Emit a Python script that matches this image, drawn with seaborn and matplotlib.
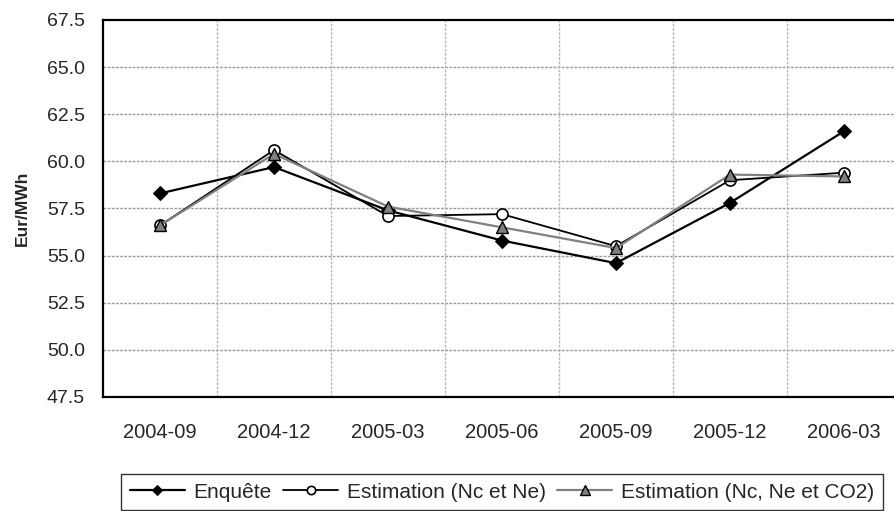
import matplotlib
matplotlib.use("Agg")
import matplotlib.pyplot as plt
import seaborn as sns
import pandas as pd
import numpy as np

periods = ["2004-09", "2004-12", "2005-03", "2005-06", "2005-09", "2005-12", "2006-03"]
enquete = [58.3, 59.7, 57.4, 55.8, 54.6, 57.8, 61.6]
estim_nc_ne = [56.6, 60.6, 57.1, 57.2, 55.5, 59.0, 59.4]
estim_nc_ne_co2 = [56.6, 60.4, 57.6, 56.5, 55.4, 59.3, 59.2]
y_ticks = [47.5, 50.0, 52.5, 55.0, 57.5, 60.0, 62.5, 65.0, 67.5]

sns.set_theme(style="white")
plt.rcParams["font.family"] = ["Liberation Sans", "DejaVu Sans"]

W, H = 895, 511
fig = plt.figure(figsize=(W / 100, H / 100), dpi=100)
# plot area runs a little past the right edge of the figure
ax = fig.add_axes([103 / W, 1 - 397 / H, 798 / W, 377 / H])

pos = np.arange(len(periods))
df = pd.DataFrame({"pos": pos, "enq": enquete, "e1": estim_nc_ne, "e2": estim_nc_ne_co2})

sns.lineplot(data=df, x="pos", y="enq", ax=ax, color="black", lw=1.6,
             marker="D", markersize=7, markerfacecolor="black", markeredgecolor="black",
             label="Enquête")
sns.lineplot(data=df, x="pos", y="e1", ax=ax, color="black", lw=1.3,
             marker="o", markersize=8, markerfacecolor="white", markeredgecolor="black",
             markeredgewidth=1.2, label="Estimation (Nc et Ne)")
sns.lineplot(data=df, x="pos", y="e2", ax=ax, color="#808080", lw=1.6,
             marker="^", markersize=9, markerfacecolor="#808080", markeredgecolor="black",
             markeredgewidth=1.0, label="Estimation (Nc, Ne et CO2)")

ax.set_xlim(-0.5, len(periods) - 0.5)
ax.set_ylim(47.5, 67.5)
ax.set_yticks(y_ticks)
ax.set_yticklabels([f"{v:.1f}" for v in y_ticks], fontsize=14)
ax.set_xticks(pos)
ax.set_xticklabels(periods, fontsize=14.5)
ax.set_xticks(np.arange(len(periods) + 1) - 0.5, minor=True)
ax.tick_params(axis="x", which="major", length=0, pad=19)
ax.tick_params(axis="x", which="minor", length=5, width=1.2, color="#555555", direction="out")
ax.tick_params(axis="y", which="major", length=5, width=1.2, color="black", direction="out", pad=8)

ax.grid(False)
for v in y_ticks[1:-1]:
    ax.axhline(v, color="#9a9a9a", lw=1.0, ls=(0, (2, 1)), zorder=0)
for b in np.arange(len(periods)) + 0.5:
    ax.axvline(b, color="#b8b8b8", lw=1.0, ls=(0, (2, 1)), zorder=0)

ax.spines["right"].set_visible(False)
for side in ["left", "bottom", "top"]:
    ax.spines[side].set_color("black")
    ax.spines[side].set_linewidth(1.6)

ax.set_xlabel("")
ax.set_ylabel("Eur/MWh", fontsize=12.5, fontweight="bold", labelpad=12)

leg = ax.legend(loc="upper center", bbox_to_anchor=(0.5, -0.176), ncol=3,
                frameon=True, fancybox=False, fontsize=15, handlelength=2.65,
                handletextpad=0.43, columnspacing=0.53, borderpad=0.42,
                markerscale=0.75)
leg.get_frame().set_edgecolor("black")
leg.get_frame().set_linewidth(1.0)

fig.savefig("out.png", dpi=100, facecolor="white")
